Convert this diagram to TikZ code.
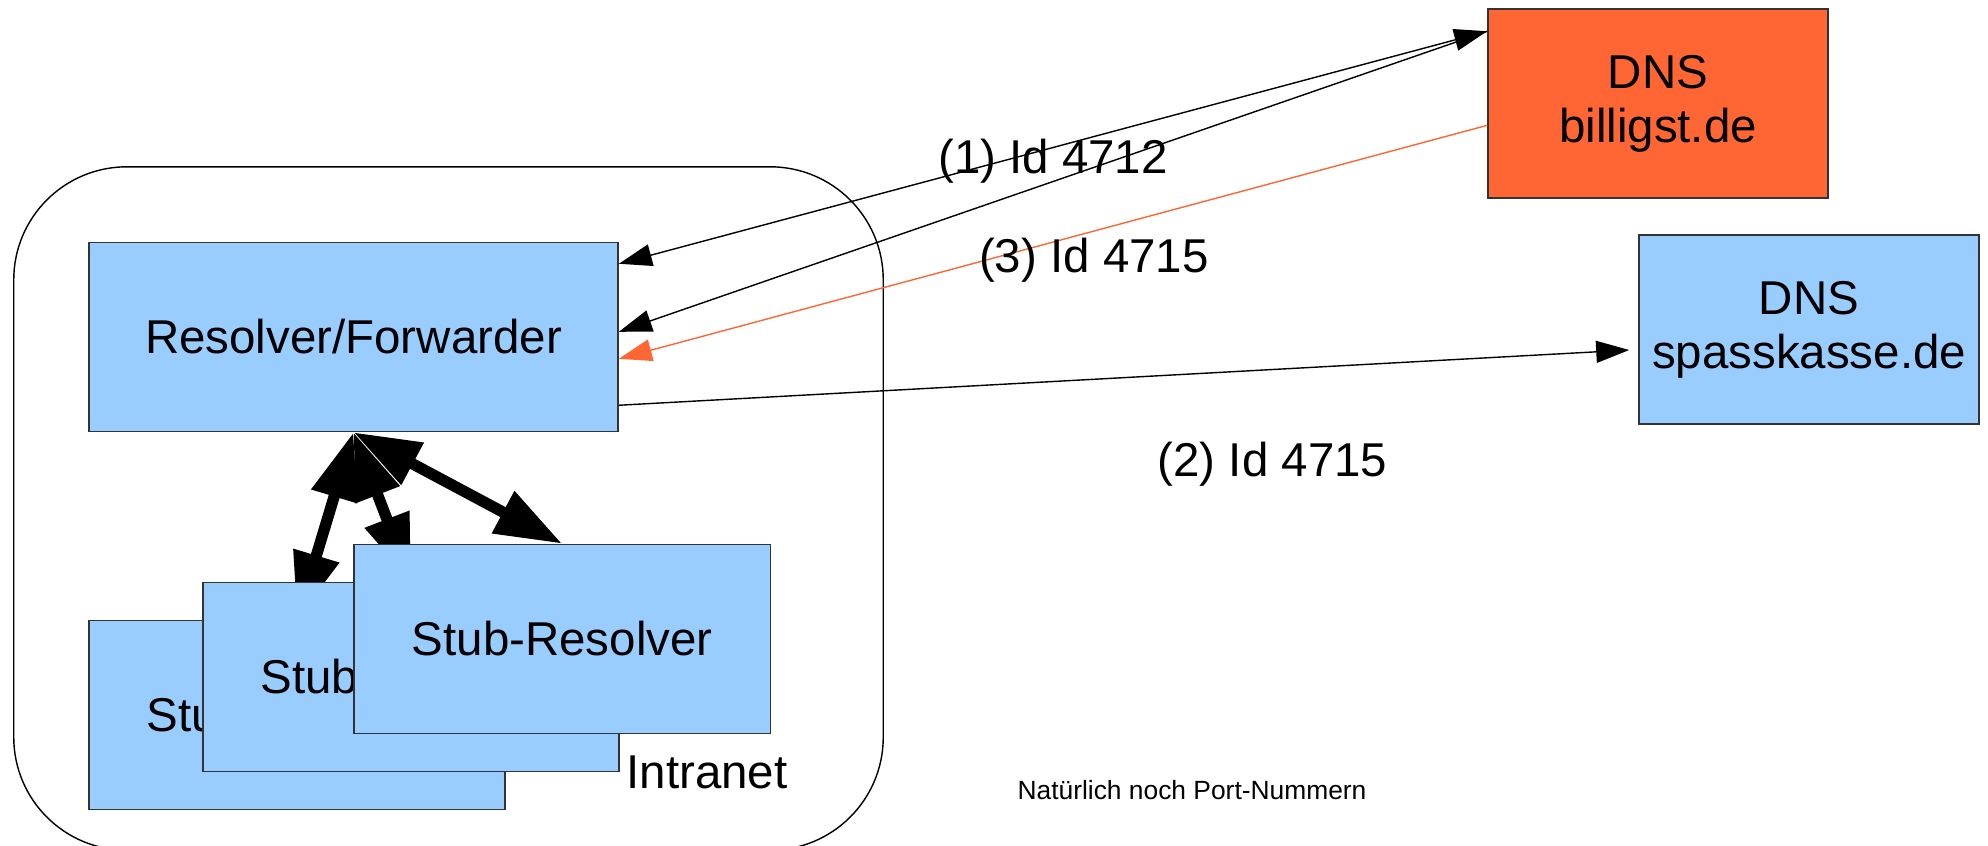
\documentclass[tikz,border=0pt]{standalone}
\usepackage{fontspec}
\setmainfont{Liberation Sans}
\usepackage{tikz}
\usetikzlibrary{arrows.meta,backgrounds}

\definecolor{boxblue}{HTML}{99CCFF}
\definecolor{dnsorange}{HTML}{FF6633}

\tikzset{
  box/.style={draw=black!80, fill=boxblue, inner sep=0pt, minimum height=1.89cm, align=center, font=\fontsize{13.5}{15.4}\selectfont},
  idtext/.style={font=\fontsize{13.5}{15.4}\selectfont},
  fat/.style={arrows={Triangle[length=6.7mm,width=4.5mm]-Triangle[length=6.7mm,width=4.5mm]}, line width=3.2pt}
}

\begin{document}
\begin{tikzpicture}[x=0.01cm, y=-0.01cm, line width=0.4pt, >={Triangle[length=3.3mm,width=2.2mm]}]
\useasboundingbox (0,0) rectangle (1988,845);

\node[name=intranet, draw, rounded corners=1.13cm, minimum width=8.69cm, minimum height=6.83cm] at (448.5,508.5) {};
\node[name=intranet_label, idtext] at (707,772) {Intranet};

\node[name=resolver, box, minimum width=5.29cm] at (353.5,337) {Resolver/Forwarder};
\node[name=stub_1, box, minimum width=4.16cm] at (297,715) {Stub-Resolver};
\node[name=stub_2, box, minimum width=4.16cm, xshift=1.14cm, yshift=0.38cm] at (stub_1) {Stub-Resolver};
\node[name=stub_3, box, minimum width=4.16cm, xshift=1.51cm, yshift=0.38cm] at (stub_2) {Stub-Resolver};

\node[name=billigst, box, fill=dnsorange, minimum width=3.4cm] at (1658,103.5) {DNS\\billigst.de};
\node[name=spasskasse, box, minimum width=3.4cm] at (1809,329.5) {DNS\\spasskasse.de};

\node[name=note, font=\fontsize{7.5}{9}\selectfont] at (1192,790) {Natürlich noch Port-Nummern};

\coordinate (res_in_1) at ([yshift=-0.22cm]resolver.north east);
\coordinate (res_in_2) at ([yshift=-0.90cm]resolver.north east);
\coordinate (res_in_3) at ([yshift=-1.17cm]resolver.north east);
\coordinate (res_out) at ([yshift=0.27cm]resolver.south east);
\coordinate (bill_in) at ([yshift=-0.23cm]billigst.north west);
\coordinate (bill_out) at ([yshift=-1.17cm]billigst.north west);
\coordinate (spass_in) at ([xshift=-0.09cm, yshift=-0.205cm]spasskasse.west);

\draw(res_in_1) edge[<->]node[idtext, pos=0.5, yshift=-0.14cm]{(1) Id 4712}(bill_in);
\draw(bill_in) edge[->](res_in_2);
\draw(res_out) edge[->]node[idtext, pos=0.647, yshift=-0.95cm]{(2) Id 4715}(spass_in);
\draw(bill_out) edge[->, dnsorange]node[idtext, text=black, pos=0.453, yshift=-0.29cm]{(3) Id 4715}(res_in_3);

\begin{pgfonlayer}{background}
\draw(resolver.south) edge[fat](stub_1.north);
\draw(resolver.south) edge[fat](stub_2.north);
\draw(resolver.south) edge[fat](stub_3.north);
\end{pgfonlayer}
\end{tikzpicture}
\end{document}
